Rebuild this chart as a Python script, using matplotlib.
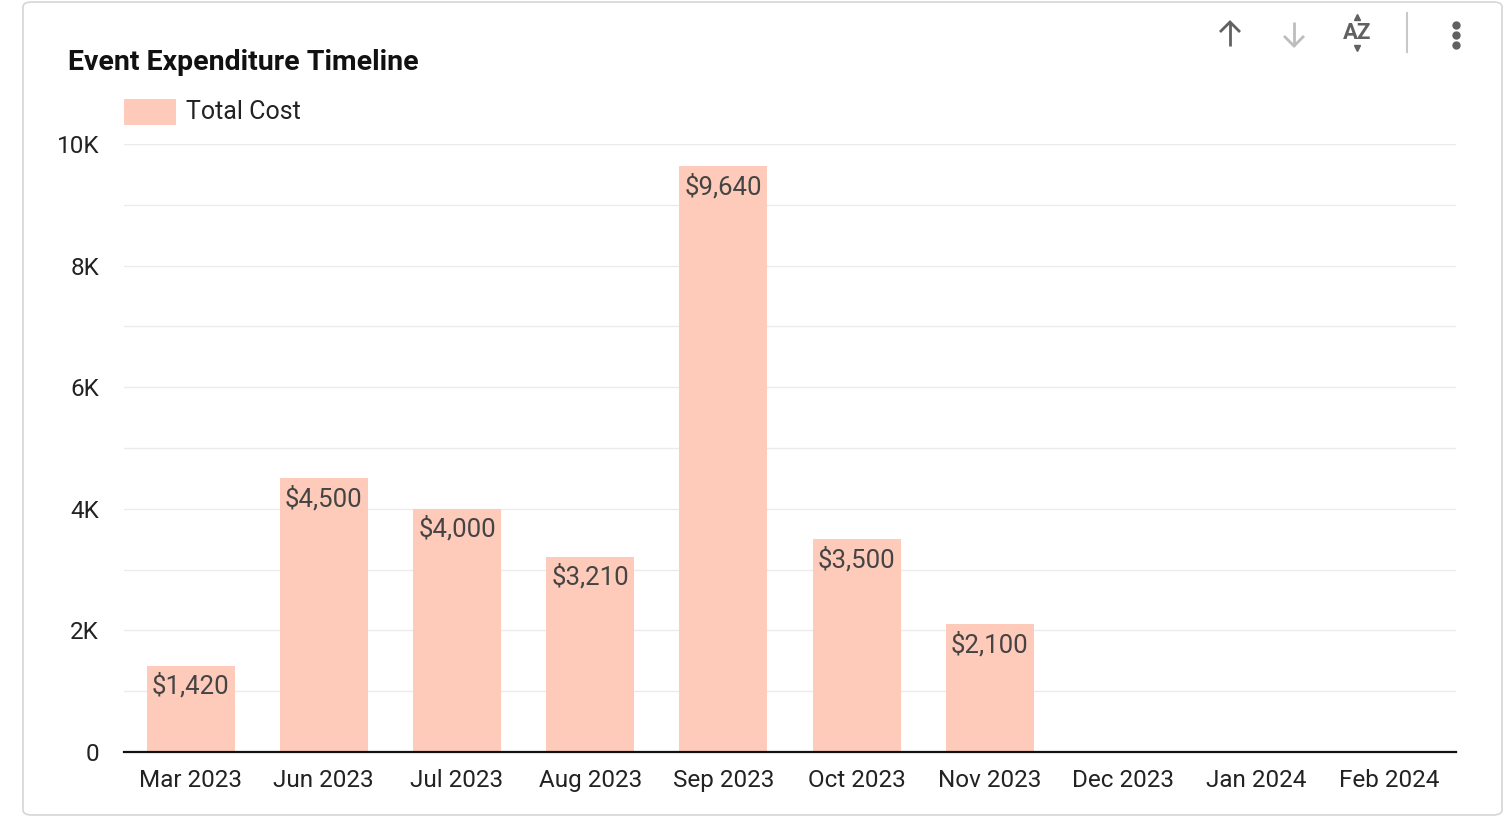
import numpy as np
import matplotlib.pyplot as plt
from matplotlib.patches import FancyBboxPatch, Rectangle
from matplotlib.ticker import FuncFormatter, MultipleLocator

plt.rcParams['font.family'] = ['Roboto', 'DejaVu Sans']

# data
months = ['Mar 2023', 'Jun 2023', 'Jul 2023', 'Aug 2023', 'Sep 2023',
          'Oct 2023', 'Nov 2023', 'Dec 2023', 'Jan 2024', 'Feb 2024']
total_cost = [1420, 4500, 4000, 3210, 9640, 3500, 2100, 0, 0, 0]

bar_color = '#fecbba'
W, H = 1506, 818

fig = plt.figure(figsize=(W / 100, H / 100), dpi=100)


def px(xp, yp):
    # pixel coords (top-left origin) -> figure fraction
    return xp / W, 1 - yp / H


def icon_line(xs, ys, color):
    fx = [xx / W for xx in xs]
    fy = [1 - yy / H for yy in ys]
    fig.add_artist(plt.Line2D(fx, fy, transform=fig.transFigure, color=color,
                              linewidth=2, solid_capstyle='butt',
                              solid_joinstyle='miter'))


# card border
card = FancyBboxPatch((23 / W, 3 / H), 1479 / W, 813 / H,
                      boxstyle='round,pad=0,rounding_size=0.006',
                      transform=fig.transFigure, facecolor='white',
                      edgecolor='#d6d6d6', linewidth=1.2, zorder=-5)
fig.patches.append(card)

ax = fig.add_axes([124 / W, (H - 752) / H, 1332 / W, 608 / H])
ax.set_facecolor('none')
ax.set_zorder(2)

x = np.arange(len(months))
bars = ax.bar(x, total_cost, width=0.66, color=bar_color, zorder=2)

for xi, v in zip(x, total_cost):
    if v > 0:
        ax.annotate(f'${v:,}', (xi, v), xytext=(0, -5.5), textcoords='offset points',
                    ha='center', va='top', fontsize=18.5, color='#444444', zorder=3)

ax.set_xlim(-0.5, len(months) - 0.5)
ax.set_ylim(0, 10000)
ax.yaxis.set_major_locator(MultipleLocator(2000))
ax.yaxis.set_minor_locator(MultipleLocator(1000))
ax.yaxis.set_major_formatter(FuncFormatter(lambda v, p: '0' if v == 0 else f'{int(v / 1000)}K'))
ax.grid(axis='y', which='both', color='#ebebeb', linewidth=1, zorder=0)
ax.set_axisbelow(True)

ax.set_xticks(x)
ax.set_xticklabels(months)
ax.tick_params(axis='x', length=0, pad=12, labelsize=17.5, colors='#222222')
ax.tick_params(axis='y', which='both', length=0, pad=18, labelsize=17.5, colors='#222222')

for s in ['top', 'right', 'left']:
    ax.spines[s].set_visible(False)
ax.spines['bottom'].set_color('#111111')
ax.spines['bottom'].set_linewidth(1.6)
ax.spines['bottom'].set_zorder(4)

# title and legend
fig.text(*px(68, 62), 'Event Expenditure Timeline', fontsize=20.5,
         fontweight='bold', va='center', ha='left', color='#111111')
fig.patches.append(Rectangle(px(124, 125), 52 / W, 26 / H,
                             transform=fig.transFigure, facecolor=bar_color,
                             edgecolor='none'))
fig.text(*px(186, 112), 'Total Cost', fontsize=18, va='center',
         ha='left', color='#222222')

# toolbar icons
icon_line([1230, 1230], [22, 46], '#616161')
icon_line([1220, 1230, 1240], [32, 22, 32], '#616161')
icon_line([1294, 1294], [22, 46], '#bdbdbd')
icon_line([1284, 1294, 1304], [36, 46, 36], '#bdbdbd')
fig.text(*px(1357, 33), 'AZ', fontsize=16, ha='center', va='center',
         color='#616161', fontweight='bold')
fig.add_artist(plt.Line2D([1357 / W], [1 - 17 / H], transform=fig.transFigure,
                          marker='^', markersize=4, color='#616161', linestyle='none'))
fig.add_artist(plt.Line2D([1357 / W], [1 - 48 / H], transform=fig.transFigure,
                          marker='v', markersize=4, color='#616161', linestyle='none'))
fig.add_artist(plt.Line2D([1407 / W, 1407 / W], [1 - 13 / H, 1 - 52 / H],
                          transform=fig.transFigure, color='#c8c8c8', linewidth=1.5))
for yy in [25, 35, 45]:
    fig.add_artist(plt.Line2D([1456 / W], [1 - yy / H], transform=fig.transFigure,
                              marker='o', markersize=5, color='#616161', linestyle='none'))

fig.savefig('out.png', dpi=100)
